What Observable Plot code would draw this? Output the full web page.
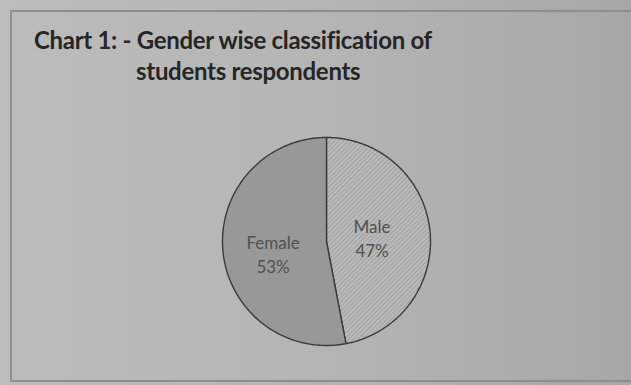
<!DOCTYPE html>
<html>
<head>
<meta charset="utf-8">
<script src="https://cdn.jsdelivr.net/npm/d3@7"></script>
<script src="https://cdn.jsdelivr.net/npm/@observablehq/plot@0.6"></script>
<style>
  html, body { margin: 0; padding: 0; }
  body {
    width: 631px; height: 385px; overflow: hidden; position: relative;
    background: linear-gradient(to right, #bbbcbb 0%, #b4b5b4 50%, #a6a7a6 100%);
    font-family: Lato, "Open Sans", sans-serif;
  }
  #frame {
    position: absolute; left: 10px; top: 10px; width: 640px; height: 372px;
    border: 2px solid #8c8d8c; box-sizing: border-box;
  }
  .t { position: absolute; font-weight: bold; font-size: 24px; line-height: normal; color: #262626; white-space: nowrap; letter-spacing: -0.3px; }
  #chart { position: absolute; left: 216px; top: 131px; }
</style>
</head>
<body>
<svg width="0" height="0" style="position:absolute">
  <defs>
    <pattern id="hatch" width="3.2" height="3.2" patternUnits="userSpaceOnUse" patternTransform="rotate(45)">
      <rect width="3.2" height="3.2" fill="#b7b8b7"></rect>
      <line x1="0" y1="0" x2="0" y2="3.2" stroke="#8e8f8e" stroke-width="1"></line>
    </pattern>
  </defs>
</svg>
<div id="frame"></div>
<div class="t" style="left:34px; top:25px;">Chart 1: - Gender wise classification of</div>
<div class="t" style="left:136px; top:56px;">students respondents</div>
<div id="chart"></div>
<script>
const categories = ["Male", "Female"];
const percents = [47, 53];
const sliceFills = ["url(#hatch)", "#979897"];

// Angles from the data (clockwise from 12 o'clock)
const pie = d3.pie().sort(null).startAngle(0).endAngle(2 * Math.PI)(percents);
const slices = pie.map((p, i) => {
  const pts = [{x: 0, y: 0}];
  const n = Math.max(2, Math.ceil((p.endAngle - p.startAngle) / (Math.PI / 180)));
  for (let k = 0; k <= n; k++) {
    const a = p.startAngle + (p.endAngle - p.startAngle) * k / n;
    pts.push({x: Math.sin(a), y: Math.cos(a)});
  }
  pts.push({x: 0, y: 0});
  return {name: categories[i], value: percents[i], fill: sliceFills[i], pts, mid: (p.startAngle + p.endAngle) / 2};
});
const labelR = [0.44, 0.516];
const labelShift = [0, -0.067];
const labelData = slices.map((s, i) => ({
  x: Math.sin(s.mid) * labelR[i],
  y: Math.cos(s.mid) * labelR[i] + labelShift[i],
  text: `${s.name}\n${s.value}%`
}));

const D = 220 / 208;
const chart = Plot.plot({
  width: 220, height: 220, margin: 0,
  x: {domain: [-D, D], axis: null},
  y: {domain: [-D, D], axis: null},
  style: {background: "transparent", overflow: "visible"},
  marks: [
    ...slices.map(s => Plot.line(s.pts, {x: "x", y: "y", fill: s.fill, stroke: "#3a3b3a", strokeWidth: 1.4, curve: "linear"})),
    Plot.text(labelData, {x: "x", y: "y", text: "text", fontSize: 17, fill: "#505150", lineHeight: 1.41, fontFamily: "Lato, 'Open Sans', sans-serif"})
  ]
});
document.getElementById("chart").appendChild(chart);
</script>
</body>
</html>
